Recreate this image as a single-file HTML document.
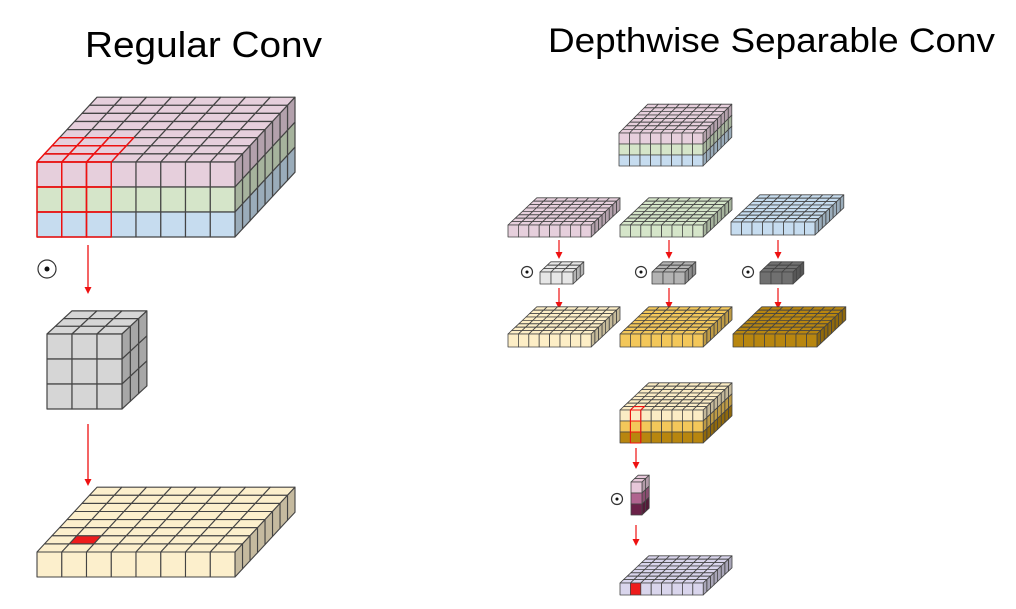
<!DOCTYPE html>
<html><head><meta charset="utf-8">
<style>html,body{margin:0;padding:0;background:#fff;}svg{display:block}</style></head>
<body>
<svg id="s" width="1016" height="609" viewBox="0 0 1016 609" xmlns="http://www.w3.org/2000/svg">
<text x="85" y="57" font-family="Liberation Sans, sans-serif" font-size="36" textLength="237" lengthAdjust="spacingAndGlyphs">Regular Conv</text>
<text x="548" y="52" font-family="Liberation Sans, sans-serif" font-size="34" textLength="447" lengthAdjust="spacingAndGlyphs">Depthwise Separable Conv</text>
<g id="g"></g>
</svg>
<script>
var NS="http://www.w3.org/2000/svg",G=document.getElementById('g');
function el(t,a){var e=document.createElementNS(NS,t);for(var k in a)e.setAttribute(k,a[k]);G.appendChild(e);return e;}
function shade(h,f){var n=parseInt(h.slice(1),16),r=n>>16,g=(n>>8)&255,b=n&255;r=Math.round(r*f);g=Math.round(g*f);b=Math.round(b*f);return 'rgb('+r+','+g+','+b+')';}
function poly(p,fill,stroke,sw){el('polygon',{points:p.map(function(q){return q[0].toFixed(1)+','+q[1].toFixed(1)}).join(' '),fill:fill,stroke:stroke,'stroke-width':sw,'stroke-linejoin':'round'});}
// x0: front-left x, yT: front top y, nx cols, cw cell w, layers colors top->bottom, lh layer h, nd depth rows, dx,dy per row
function box(x0,yT,nx,cw,layers,lh,nd,dx,dy,sw,opt){
  opt=opt||{};var st=opt.stroke||'#444';
  var top=layers[0];
  for(var r=nd-1;r>=0;r--)for(var c=0;c<nx;c++){
    var x=x0+c*cw+r*dx,y=yT-r*dy;
    var f=(opt.topRed&&opt.topRed(r,c))?'#ee1c1c':top;
    poly([[x,y],[x+cw,y],[x+cw+dx,y-dy],[x+dx,y-dy]],f,st,sw);
  }
  var xr=x0+nx*cw;
  for(var r=nd-1;r>=0;r--)for(var l=0;l<layers.length;l++){
    var x=xr+r*dx,y=yT+l*lh-r*dy;
    poly([[x,y],[x+dx,y-dy],[x+dx,y-dy+lh],[x,y+lh]],shade(layers[l],0.78),st,sw);
  }
  for(var l=0;l<layers.length;l++)for(var c=0;c<nx;c++){
    var f=(opt.frontRed&&opt.frontRed(l,c))?'#ee1c1c':layers[l];
    poly([[x0+c*cw,yT+l*lh],[x0+(c+1)*cw,yT+l*lh],[x0+(c+1)*cw,yT+(l+1)*lh],[x0+c*cw,yT+(l+1)*lh]],f,st,sw);
  }
}
function redOutline(x0,yT,cols,c0,cw,nl,lh,nrows,dx,dy,sw){
  for(var r=0;r<nrows;r++)for(var c=c0;c<c0+cols;c++){
    var x=x0+c*cw+r*dx,y=yT-r*dy;
    poly([[x,y],[x+cw,y],[x+cw+dx,y-dy],[x+dx,y-dy]],'none','#f01010',sw);
  }
  for(var l=0;l<nl;l++)for(var c=c0;c<c0+cols;c++)
    poly([[x0+c*cw,yT+l*lh],[x0+(c+1)*cw,yT+l*lh],[x0+(c+1)*cw,yT+(l+1)*lh],[x0+c*cw,yT+(l+1)*lh]],'none','#f01010',sw);
}
function arrow(x,y1,y2,sw){el('line',{x1:x,y1:y1,x2:x,y2:y2-5,stroke:'#ee1111','stroke-width':sw});el('polygon',{points:(x-3.5)+','+(y2-7)+' '+(x+3.5)+','+(y2-7)+' '+x+','+y2,fill:'#ee1111'});}
function odot(x,y,r){el('circle',{cx:x,cy:y,r:r,fill:'#fff',stroke:'#333','stroke-width':1.2});el('circle',{cx:x,cy:y,r:r*0.28,fill:'#111'});}
var P='#e6cfdc',Gr='#d5e5c9',B='#c6dcef';
// Left
box(37,162,8,24.75,[P,Gr,B],25,8,7.5,8.1,1.2);
redOutline(37,162,3,0,24.75,3,25,3,7.5,8.1,1.4);
arrow(88,245,294,1.3);odot(47,269,9);
box(47,334,3,25,['#d6d6d6','#d6d6d6','#d6d6d6'],25,3,8.3,7.7,1.2);
arrow(88,424,486,1.3);
box(37,552,8,24.75,['#fcefcc'],25,8,7.5,8.1,1.1,{topRed:function(r,c){return r==1&&c==1;}});
// Right top block
box(619,133,8,10.5,[P,Gr,B],11,8,3.6,3.6,0.8);
// slabs
box(508,225,8,10.4,[P],12,8,3.6,3.4,0.8);
box(620,225,8,10.4,[Gr],12,8,3.6,3.4,0.8);
box(731,222,8,10.5,[B],13,8,3.6,3.4,0.8);
// kernels
box(540,272,3,11,['#e6e6e6'],12,3,3.6,3.4,0.8);
box(652,272,3,11,['#b3b3b3'],12,3,3.6,3.4,0.8);
box(760,272,3,11,['#707070'],12,3,3.6,3.4,0.8);
odot(527,272,5.5);odot(641,272,5.5);odot(748,272,5.5);
arrow(559,240,259,1.2);arrow(669,240,259,1.2);arrow(778,240,259,1.2);
arrow(559,288,309,1.2);arrow(669,288,309,1.2);arrow(778,288,309,1.2);
// output slabs
box(508,334,8,10.4,['#fdeec6'],13,8,3.6,3.4,0.8);
box(620,334,8,10.4,['#f3c75a'],13,8,3.6,3.4,0.8);
box(733,334,8,10.5,['#b8860f'],13,8,3.6,3.4,0.8);
// combined
box(620,410,8,10.4,['#fbecc4','#f3c75a','#b8860f'],11,8,3.6,3.4,0.8);
redOutline(620,410,1,1,10.4,3,11,1,3.6,3.4,1.1);
arrow(636,448,469,1.2);
box(631,482,1,11,['#e6c7d9','#b0648f','#6b2148'],11,2,3.6,3.4,0.8);
odot(617,499,5.5);
arrow(636,525,546,1.2);
box(620,583,8,10.4,['#d9d5ec'],12,8,3.6,3.4,0.8,{frontRed:function(l,c){return c==1;}});
</script>
</body></html>
